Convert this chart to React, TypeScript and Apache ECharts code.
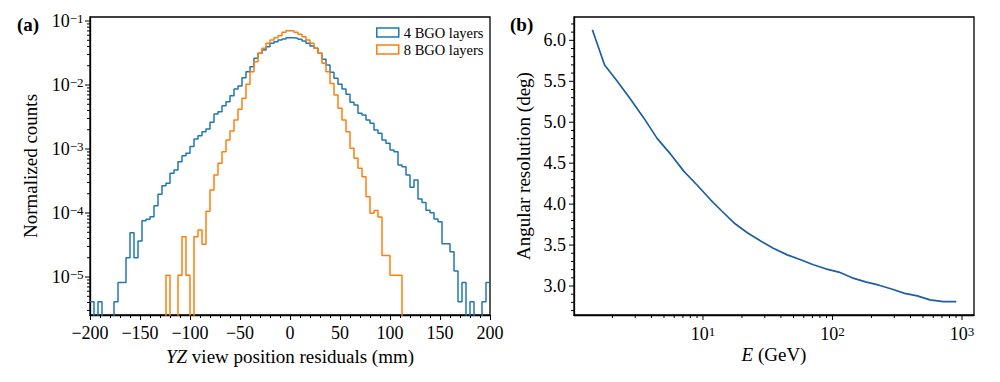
import React, { useEffect, useRef } from 'react';
import * as echarts from 'echarts';

const FONT = 'Liberation Serif';
const BLUE = '#1f77b4';
const ORANGE = '#ff7f0e';
const CURVE = '#1c5fa6';

// Histogram binning (mm)
const BIN_START = -200;
const BIN_WIDTH = 4;

// Normalized counts per bin, 4 BGO layers (null = empty bin)
const COUNTS_4BGO: (number | null)[] = [
  4.1e-6, null, 4.1e-6, null, null, null, 4.1e-6, 8.2e-6, 8.2e-6, 2.0e-5,
  4.9e-5, 2.0e-5, 3.65e-5, 7.6e-5, 8.0e-5, 8.75e-5, 1.30e-4, 1.96e-4, 2.67e-4, 2.91e-4,
  4.17e-4, 4.70e-4, 6.34e-4, 7.86e-4, 8.57e-4, 1.09e-3, 1.43e-3, 1.61e-3, 1.86e-3, 2.05e-3,
  2.61e-3, 3.52e-3, 3.83e-3, 4.75e-3, 5.48e-3, 6.81e-3, 8.66e-3, 9.64e-3, 1.30e-2, 1.61e-2,
  1.93e-2, 2.61e-2, 3.13e-2, 3.52e-2, 3.97e-2, 4.49e-2, 4.76e-2, 5.05e-2, 5.24e-2, 5.48e-2,
  5.48e-2, 5.37e-2, 5.18e-2, 4.87e-2, 4.49e-2, 4.07e-2, 3.74e-2, 3.13e-2, 2.52e-2, 2.05e-2,
  1.58e-2, 1.27e-2, 1.03e-2, 8.66e-3, 7.16e-3, 5.37e-3, 4.87e-3, 3.61e-3, 3.40e-3, 2.84e-3,
  2.52e-3, 1.98e-3, 1.76e-3, 1.38e-3, 1.23e-3, 9.64e-4, 9.08e-4, 5.62e-4, 5.29e-4, 3.93e-4,
  2.52e-4, 3.28e-4, 1.66e-4, 1.46e-4, 1.10e-4, 1.01e-4, 8.05e-5, 7.31e-5, 3.31e-5, 3.31e-5,
  2.48e-5, 1.24e-5, 4.1e-6, 8.2e-6, null, 4.1e-6, null, null, 4.1e-6, 8.2e-6,
];

// Normalized counts per bin, 8 BGO layers
const COUNTS_8BGO: (number | null)[] = [
  null, null, null, null, null, null, null, null, null, null,
  null, null, null, null, null, null, null, null, null, 1.07e-5,
  null, null, 1.07e-5, 4.27e-5, 1.07e-5, null, 4.27e-5, 5.42e-5, 3.24e-5, 1.07e-4,
  2.29e-4, 3.93e-4, 5.98e-4, 9.08e-4, 1.38e-3, 1.91e-3, 2.84e-3, 4.17e-3, 6.19e-3, 1.03e-2,
  1.61e-2, 2.31e-2, 3.13e-2, 3.74e-2, 4.49e-2, 5.05e-2, 5.48e-2, 5.89e-2, 6.66e-2, 7.05e-2,
  7.05e-2, 6.66e-2, 6.19e-2, 5.69e-2, 5.05e-2, 4.49e-2, 3.74e-2, 3.13e-2, 2.18e-2, 1.61e-2,
  1.06e-2, 6.98e-3, 4.33e-3, 2.84e-3, 1.86e-3, 1.03e-3, 7.16e-4, 4.99e-4, 3.69e-4, 1.80e-4,
  9.89e-5, 1.09e-4, 8.66e-5, 2.17e-5, 2.17e-5, 1.07e-5, 1.07e-5, 1.07e-5, null, null,
  null, null, null, null, null, null, null, null, null, null,
  null, null, null, null, null, null, null, null, null, null,
];

// Angular resolution vs energy
const ENERGY_GEV = [1.40, 1.74, 2.18, 2.76, 3.50, 4.44, 5.63, 7.13, 9.04, 11.5, 14.1, 17.7, 22.0, 27.9, 34.9,
  44.8, 56.8, 71.1, 88.7, 112, 142, 180, 229, 290, 361, 452, 566, 717, 903];
const ANG_RES_DEG = [6.13, 5.70, 5.50, 5.28, 5.05, 4.80, 4.61, 4.40, 4.23, 4.05, 3.91, 3.76, 3.65, 3.55, 3.46,
  3.38, 3.32, 3.26, 3.21, 3.17, 3.10, 3.05, 3.01, 2.96, 2.91, 2.88, 2.83, 2.81, 2.81];

// Axis ranges
const L_X = [-200, 200];
const L_Y = [2.55e-6, 0.1155];
const R_X = [1.01, 1238];
const R_Y = [2.646, 6.285];

// Tick values
const LEFT_X_LABELS = [-200, -150, -100, -50, 0, 50, 100, 150, 200];
const LEFT_Y_MAJOR = [1e-5, 1e-4, 1e-3, 1e-2, 1e-1];
const MINOR_MULT = [2, 3, 4, 5, 6, 7, 8, 9];
const RIGHT_X_MAJOR = [10, 100, 1000];
const RIGHT_Y_MAJOR = [3.0, 3.5, 4.0, 4.5, 5.0, 5.5, 6.0];
const RIGHT_Y_MINOR = [2.7, 2.8, 2.9, 3.1, 3.2, 3.3, 3.4, 3.6, 3.7, 3.8, 3.9, 4.1, 4.2, 4.3, 4.4,
  4.6, 4.7, 4.8, 4.9, 5.1, 5.2, 5.3, 5.4, 5.6, 5.7, 5.8, 5.9, 6.1, 6.2];

const FLOOR = 1e-9;

function logMinors(decades: number[], lo: number, hi: number) {
  const out: number[] = [];
  decades.forEach((d) => MINOR_MULT.forEach((m) => {
    const v = m * d;
    if (v >= lo && v <= hi) out.push(v);
  }));
  return out;
}

function stepData(vals: (number | null)[]) {
  const out: number[][] = [];
  vals.forEach((v, i) => {
    const y = v == null ? FLOOR : v;
    out.push([BIN_START + i * BIN_WIDTH, y], [BIN_START + (i + 1) * BIN_WIDTH, y]);
  });
  return out;
}

const RICH = {
  b: { fontSize: 18, fontFamily: FONT, color: '#000' },
  s: { fontSize: 13, fontFamily: FONT, color: '#000', verticalAlign: 'top' },
};

function pow10Label(v: number) {
  const e = Math.round(Math.log10(v));
  const es = e < 0 ? '\u2212' + -e : String(e);
  return `{b|10}{s|${es}}`;
}

function tickSeries(gi: number, pts: number[][], dir: 'down' | 'left', len: number) {
  return {
    type: 'custom', xAxisIndex: gi, yAxisIndex: gi, silent: true, clip: false, z: 6,
    data: pts,
    renderItem: (_p: any, api: any) => {
      const p = api.coord([api.value(0), api.value(1)]);
      const dx = dir === 'left' ? -len : 0;
      const dy = dir === 'down' ? len : 0;
      return {
        type: 'line',
        shape: { x1: p[0], y1: p[1], x2: p[0] + dx, y2: p[1] + dy },
        style: { stroke: '#000', lineWidth: 1 },
      };
    },
  };
}

function labelSeries(gi: number, pts: number[][], texts: string[], dx: number, dy: number,
  align: string, vAlign: string) {
  return {
    type: 'custom', xAxisIndex: gi, yAxisIndex: gi, silent: true, clip: false, z: 6,
    data: pts,
    renderItem: (params: any, api: any) => {
      const p = api.coord([api.value(0), api.value(1)]);
      return {
        type: 'text',
        x: p[0] + dx,
        y: p[1] + dy,
        style: {
          text: texts[params.dataIndex],
          rich: RICH,
          fontSize: 18,
          fontFamily: FONT,
          fill: '#000',
          align, verticalAlign: vAlign,
          textAlign: align, textVerticalAlign: vAlign,
        },
      };
    },
  };
}

const axisLine = { show: true, onZero: false, lineStyle: { color: '#000', width: 1.3 } };
const titleStyle = {
  fontSize: 19, fontFamily: FONT, color: '#000',
  rich: { i: { fontSize: 19, fontFamily: FONT, fontStyle: 'italic', color: '#000' } },
};

export default function App() {
  const ref = useRef<HTMLDivElement>(null);
  useEffect(() => {
    if (!ref.current) return;
    const chart = echarts.init(ref.current, undefined, { renderer: 'svg' });

    const leftYMinor = logMinors([1e-6, 1e-5, 1e-4, 1e-3, 1e-2, 1e-1], L_Y[0], L_Y[1]);
    const rightXMinor = logMinors([1, 10, 100, 1000], R_X[0], R_X[1]);

    const option: any = {
      animation: false,
      textStyle: { fontFamily: FONT },
      grid: [
        { left: 90, top: 17, width: 400, height: 298, show: true, borderColor: '#000', borderWidth: 1.3, backgroundColor: 'rgba(0,0,0,0)' },
        { left: 574, top: 17, width: 400, height: 298, show: true, borderColor: '#000', borderWidth: 1.3, backgroundColor: 'rgba(0,0,0,0)' },
      ],
      xAxis: [
        {
          type: 'value', gridIndex: 0, min: L_X[0], max: L_X[1], interval: 50,
          axisLine,
          axisTick: { show: true, length: 5, lineStyle: { color: '#000', width: 1 } },
          minorTick: { show: true, splitNumber: 5, length: 3, lineStyle: { color: '#000', width: 1 } },
          splitLine: { show: false }, minorSplitLine: { show: false },
          axisLabel: {
            fontSize: 18, fontFamily: FONT, color: '#000', margin: 9,
            formatter: (v: number) => (LEFT_X_LABELS.includes(v) ? String(v).replace('-', '\u2212') : ''),
          },
          name: '{i|YZ} view position residuals (mm)', nameLocation: 'middle', nameGap: 30,
          nameTextStyle: titleStyle,
        },
        {
          type: 'log', logBase: 10, gridIndex: 1, min: R_X[0], max: R_X[1],
          axisLine, axisTick: { show: false }, axisLabel: { show: false },
          splitLine: { show: false }, minorTick: { show: false }, minorSplitLine: { show: false },
          name: '{i|E} (GeV)', nameLocation: 'middle', nameGap: 30, nameTextStyle: titleStyle,
        },
      ],
      yAxis: [
        {
          type: 'log', logBase: 10, gridIndex: 0, min: L_Y[0], max: L_Y[1],
          axisLine, axisTick: { show: false }, axisLabel: { show: false },
          splitLine: { show: false }, minorTick: { show: false }, minorSplitLine: { show: false },
          name: 'Normalized counts', nameLocation: 'middle', nameGap: 50, nameTextStyle: titleStyle,
        },
        {
          type: 'value', gridIndex: 1, min: R_Y[0], max: R_Y[1],
          axisLine, axisTick: { show: false }, axisLabel: { show: false },
          splitLine: { show: false }, minorTick: { show: false }, minorSplitLine: { show: false },
          name: 'Angular resolution (deg)', nameLocation: 'middle', nameGap: 41, nameTextStyle: titleStyle,
        },
      ],
      legend: {
        data: [
          { name: '4 BGO layers', icon: 'rect', itemStyle: { color: 'rgba(0,0,0,0)', borderColor: BLUE, borderWidth: 1.5 } },
          { name: '8 BGO layers', icon: 'rect', itemStyle: { color: 'rgba(0,0,0,0)', borderColor: ORANGE, borderWidth: 1.5 } },
        ],
        orient: 'vertical', left: 376, top: 25, itemWidth: 22, itemHeight: 9, itemGap: 2,
        selectedMode: false, padding: 0,
        textStyle: { fontSize: 14.5, fontFamily: FONT, color: '#000' },
      },
      graphic: [
        { type: 'text', left: 17, top: 15, style: { text: '(a)', fontWeight: 'bold', fontSize: 19, fontFamily: FONT, fill: '#000' } },
        { type: 'text', left: 510, top: 15, style: { text: '(b)', fontWeight: 'bold', fontSize: 19, fontFamily: FONT, fill: '#000' } },
      ],
      series: [
        {
          name: '4 BGO layers', type: 'line', xAxisIndex: 0, yAxisIndex: 0,
          data: stepData(COUNTS_4BGO), showSymbol: false, symbol: 'none', clip: true,
          lineStyle: { color: BLUE, width: 1.5 }, itemStyle: { color: BLUE }, z: 3,
        },
        {
          name: '8 BGO layers', type: 'line', xAxisIndex: 0, yAxisIndex: 0,
          data: stepData(COUNTS_8BGO), showSymbol: false, symbol: 'none', clip: true,
          lineStyle: { color: ORANGE, width: 1.5 }, itemStyle: { color: ORANGE }, z: 4,
        },
        {
          name: 'Angular resolution', type: 'line', xAxisIndex: 1, yAxisIndex: 1,
          data: ENERGY_GEV.map((e, i) => [e, ANG_RES_DEG[i]]), showSymbol: false, symbol: 'none',
          lineStyle: { color: CURVE, width: 1.7 }, itemStyle: { color: CURVE }, z: 3,
        },
        // left panel log-y ticks
        tickSeries(0, LEFT_Y_MAJOR.map((v) => [L_X[0], v]), 'left', 5),
        tickSeries(0, leftYMinor.map((v) => [L_X[0], v]), 'left', 3),
        labelSeries(0, LEFT_Y_MAJOR.map((v) => [L_X[0], v]), LEFT_Y_MAJOR.map(pow10Label), -6.5, 0, 'right', 'middle'),
        // right panel log-x ticks
        tickSeries(1, RIGHT_X_MAJOR.map((v) => [v, R_Y[0]]), 'down', 5),
        tickSeries(1, rightXMinor.map((v) => [v, R_Y[0]]), 'down', 3),
        labelSeries(1, RIGHT_X_MAJOR.map((v) => [v, R_Y[0]]), RIGHT_X_MAJOR.map(pow10Label), 0, 10, 'center', 'top'),
        // right panel linear-y ticks
        tickSeries(1, RIGHT_Y_MAJOR.map((v) => [R_X[0], v]), 'left', 5),
        tickSeries(1, RIGHT_Y_MINOR.map((v) => [R_X[0], v]), 'left', 3),
        labelSeries(1, RIGHT_Y_MAJOR.map((v) => [R_X[0], v]), RIGHT_Y_MAJOR.map((v) => v.toFixed(1)), -8, 0, 'right', 'middle'),
      ],
    };
    chart.setOption(option);
    return () => chart.dispose();
  }, []);
  return <div ref={ref} style={{ position: 'absolute', left: 0, top: 0, width: 1000, height: 382, background: '#fff' }} />;
}
